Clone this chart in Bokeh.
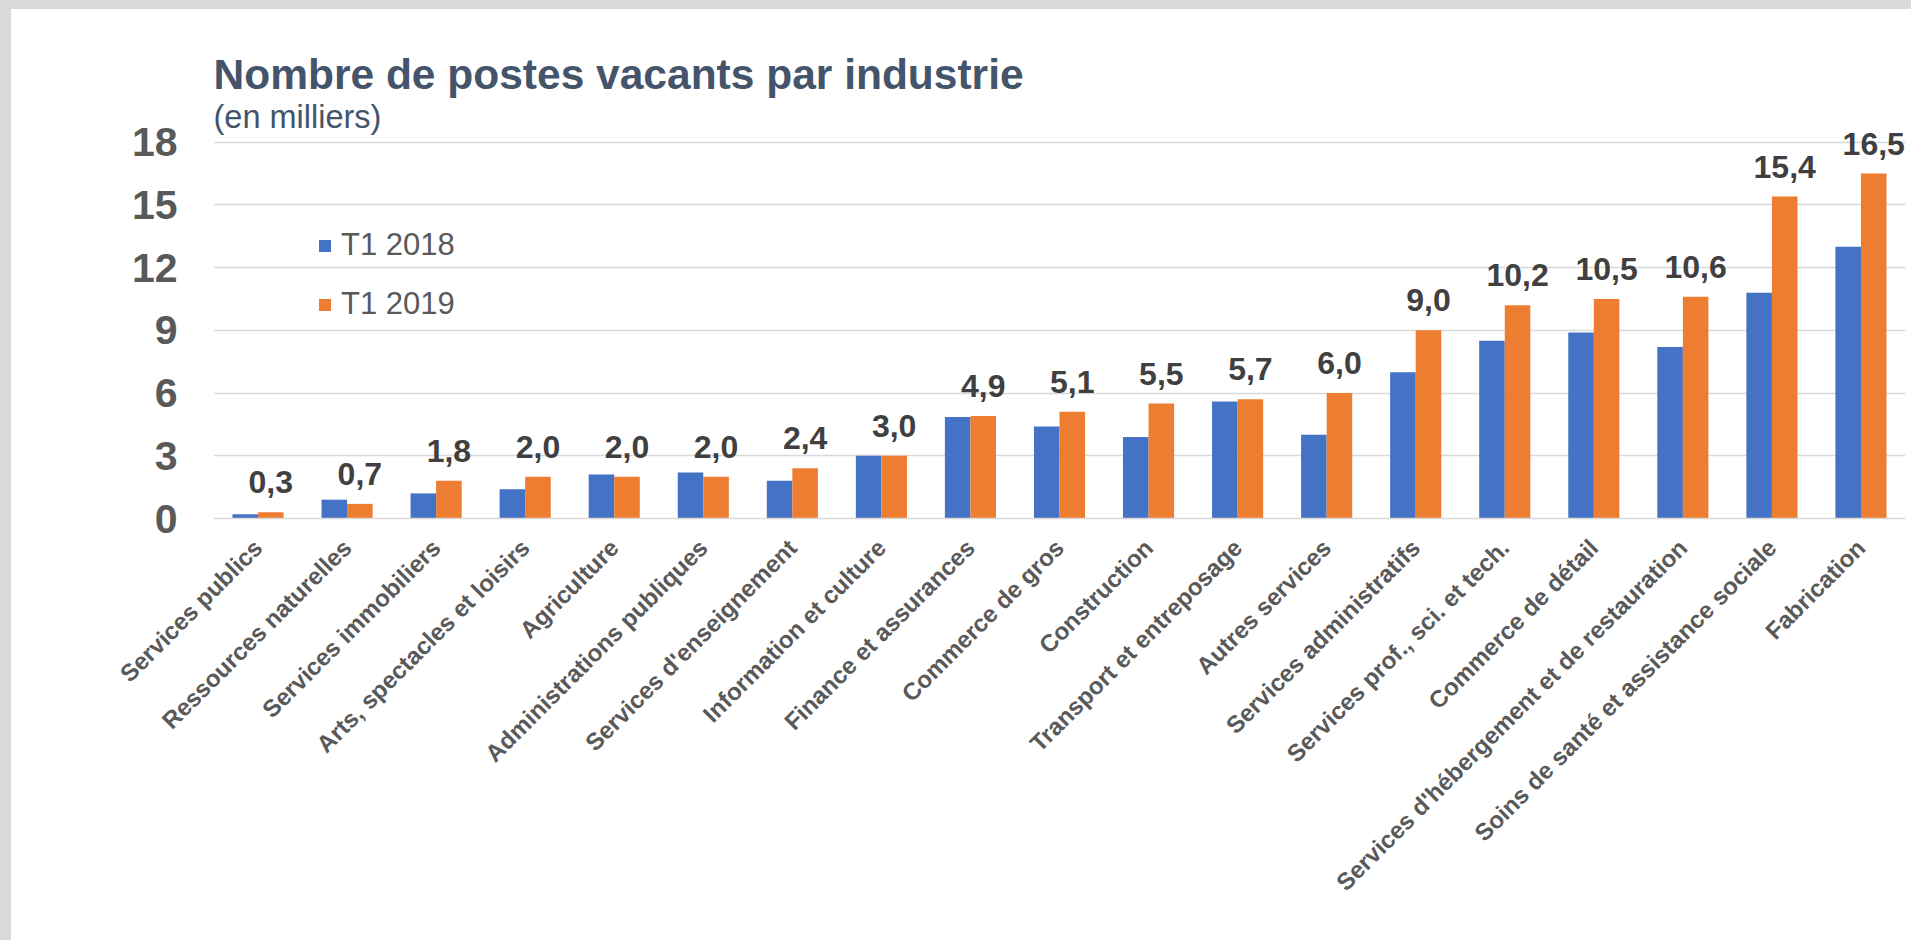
import math
from bokeh.plotting import figure
from bokeh.layouts import column, row
from bokeh.models import (ColumnDataSource, FactorRange, Range1d, FixedTicker,
                          Label, Legend, LegendItem, Spacer)
from bokeh.transform import dodge
from bokeh.core.properties import value
from bokeh.embed import file_html
from bokeh.resources import INLINE

categories = [
    "Services publics", "Ressources naturelles", "Services immobiliers",
    "Arts, spectacles et loisirs", "Agriculture", "Administrations publiques",
    "Services d'enseignement", "Information et culture", "Finance et assurances",
    "Commerce de gros", "Construction", "Transport et entreposage",
    "Autres services", "Services administratifs", "Services prof., sci. et tech.",
    "Commerce de détail", "Services d'hébergement et de restauration",
    "Soins de santé et assistance sociale", "Fabrication",
]
t1_2018 = [0.2, 0.9, 1.2, 1.4, 2.1, 2.2, 1.8, 3.0, 4.85, 4.4, 3.9, 5.6, 4.0,
           7.0, 8.5, 8.9, 8.2, 10.8, 13.0]
t1_2019 = [0.3, 0.7, 1.8, 2.0, 2.0, 2.0, 2.4, 3.0, 4.9, 5.1, 5.5, 5.7, 6.0,
           9.0, 10.2, 10.5, 10.6, 15.4, 16.5]
y_ticks = [0, 3, 6, 9, 12, 15, 18]
series_names = ["T1 2018", "T1 2019"]

FONT = "Liberation Sans"
BLUE = "#4472c4"
ORANGE = "#ed7d31"
GRID = "#d9d9d9"
PAGE_GRAY = "#d9d9d9"

labels_2019 = [f"{v:.1f}".replace(".", ",") for v in t1_2019]
src = ColumnDataSource(dict(cat=categories, a=t1_2018, b=t1_2019, lab=labels_2019))

p = figure(
    width=1900, height=931,
    x_range=FactorRange(factors=categories, range_padding=0),
    y_range=Range1d(0, 23.34),
    output_backend="svg", toolbar_location=None,
    min_border_left=202, min_border_right=6, min_border_top=21, min_border_bottom=422,
)
p.outline_line_color = None
p.background_fill_color = "white"
p.border_fill_color = "white"

bw = 0.287
r1 = p.vbar(x=dodge("cat", -bw / 2, range=p.x_range), top="a", width=bw, bottom=0,
            source=src, fill_color=BLUE, line_color=None)
r2 = p.vbar(x=dodge("cat", bw / 2, range=p.x_range), top="b", width=bw, bottom=0,
            source=src, fill_color=ORANGE, line_color=None)

p.text(x=dodge("cat", bw / 2, range=p.x_range), y="b", text="lab", source=src,
       text_font=value(FONT), text_font_style="bold", text_font_size="32px",
       text_color="#404040", text_align="center", text_baseline="alphabetic",
       y_offset=-30)

# axes
p.yaxis.ticker = FixedTicker(ticks=y_ticks)
p.yaxis.axis_line_color = None
p.yaxis.major_tick_line_color = None
p.yaxis.minor_tick_line_color = None
p.yaxis.major_label_text_font = FONT
p.yaxis.major_label_text_font_style = "bold"
p.yaxis.major_label_text_font_size = "41px"
p.yaxis.major_label_text_color = "#595959"
p.yaxis.major_label_standoff = 30

p.xaxis.axis_line_color = GRID
p.xaxis.axis_line_width = 1.5
p.xaxis.major_tick_line_color = None
p.xaxis.minor_tick_line_color = None
p.xaxis.major_label_orientation = math.pi / 4
p.xaxis.major_label_text_font = FONT
p.xaxis.major_label_text_font_style = "bold"
p.xaxis.major_label_text_font_size = "24px"
p.xaxis.major_label_text_color = "#595959"
p.xaxis.major_label_standoff = 19

p.xgrid.grid_line_color = None
p.ygrid.grid_line_color = GRID
p.ygrid.grid_line_width = 1.5

# title / subtitle
p.add_layout(Label(x=0, y=444, x_units="screen", y_units="screen",
                   text="Nombre de postes vacants par industrie",
                   text_font=FONT, text_font_style="bold", text_font_size="42.5px",
                   text_color="#44546a", text_baseline="alphabetic"))
p.add_layout(Label(x=0, y=402, x_units="screen", y_units="screen",
                   text="(en milliers)",
                   text_font=FONT, text_font_size="32.5px",
                   text_color="#44546a", text_baseline="alphabetic"))

legend = Legend(items=[LegendItem(label=series_names[0], renderers=[r1]),
                       LegendItem(label=series_names[1], renderers=[r2])],
                location=(104, 196), orientation="vertical",
                glyph_width=15, glyph_height=15, label_standoff=9, spacing=23,
                padding=0, margin=0, border_line_color=None,
                background_fill_alpha=0,
                label_text_font=FONT, label_text_font_size="31px",
                label_text_color="#595959")
p.add_layout(legend, "center")

top_band = Spacer(width=1911, height=9, styles={"background-color": PAGE_GRAY})
left_band = Spacer(width=11, height=931, styles={"background-color": PAGE_GRAY})
layout = column(top_band, row(left_band, p, spacing=0), spacing=0)

open("out.html", "w").write(file_html(layout, INLINE))
